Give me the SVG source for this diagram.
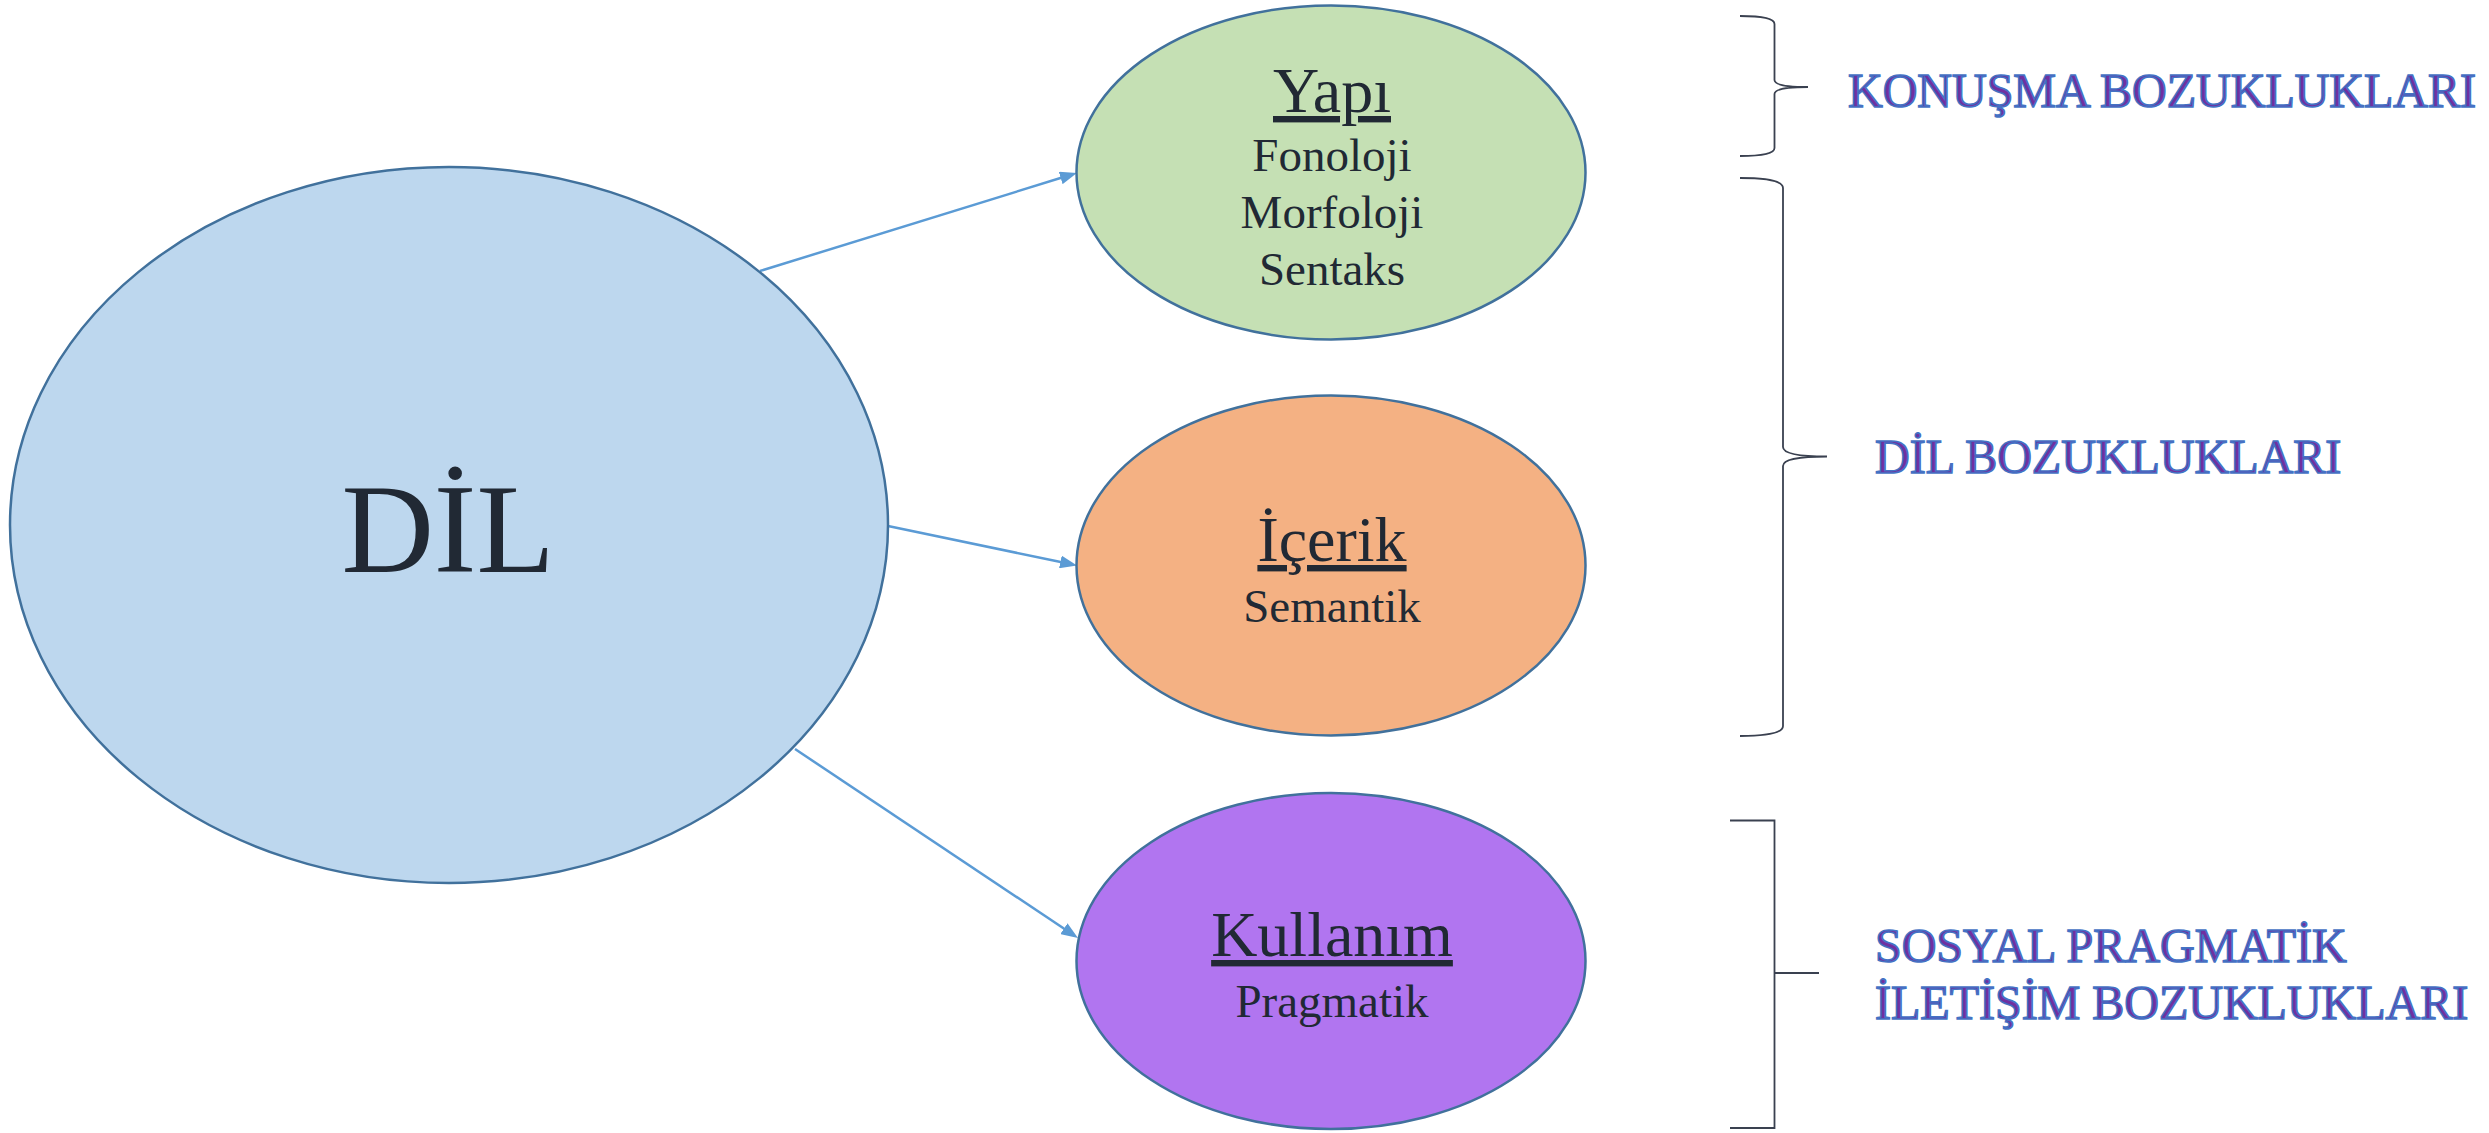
<svg xmlns="http://www.w3.org/2000/svg" width="2489" height="1133" viewBox="0 0 2489 1133">
<style>
  .node { stroke: #41719C; stroke-width: 2.5; }
  .title { font-family: "Liberation Serif", "Times New Roman", serif; font-size: 64px; fill: #212934; text-anchor: middle; text-decoration: underline; }
  .sub { font-family: "Liberation Serif", "Times New Roman", serif; font-size: 47px; fill: #212934; text-anchor: middle; }
  .big { font-family: "Liberation Serif", "Times New Roman", serif; font-size: 128px; fill: #212934; text-anchor: middle; }
  .edge { stroke: #5B9BD5; stroke-width: 2.5; fill: none; }
  .brace { stroke: #3A4150; stroke-width: 1.8; fill: none; }
  .label { font-family: "Liberation Serif", "Times New Roman", serif; font-size: 48px; fill: #7030A0; stroke: #4472C4; stroke-width: 1.6; }
</style>
<defs>
  <marker id="arrow" markerUnits="userSpaceOnUse" markerWidth="17" markerHeight="13" refX="4" refY="6.5" orient="auto">
    <path d="M0,0 L17,6.5 L0,13 z" fill="#5B9BD5"/>
  </marker>
</defs>
<rect width="2489" height="1133" fill="#ffffff"/>

<g id="connectors">
  <line class="edge" x1="760" y1="271" x2="1064.5" y2="176.8" marker-end="url(#arrow)"/>
  <line class="edge" x1="888" y1="526" x2="1064.3" y2="562.8" marker-end="url(#arrow)"/>
  <line class="edge" x1="795" y1="749" x2="1067.2" y2="930.8" marker-end="url(#arrow)"/>
</g>

<g id="node-dil">
  <ellipse class="node" cx="449" cy="525" rx="439" ry="358" fill="#BDD7EE"/>
  <text class="big" x="448" y="572">DİL</text>
</g>

<g id="node-yapi">
  <ellipse class="node" cx="1331" cy="172.5" rx="254.5" ry="167" fill="#C5E0B4"/>
  <text class="title" x="1332" y="112">Yapı</text>
  <text class="sub" x="1332" y="171">Fonoloji</text>
  <text class="sub" x="1332" y="228">Morfoloji</text>
  <text class="sub" x="1332" y="285">Sentaks</text>
</g>

<g id="node-icerik">
  <ellipse class="node" cx="1331" cy="565.5" rx="254.5" ry="170" fill="#F4B183"/>
  <text class="title" x="1332" y="561">İçerik</text>
  <text class="sub" x="1332" y="622">Semantik</text>
</g>

<g id="node-kullanim">
  <ellipse class="node" cx="1331" cy="961" rx="254.5" ry="168" fill="#B175F0"/>
  <text class="title" x="1332" y="956">Kullanım</text>
  <text class="sub" x="1332" y="1017">Pragmatik</text>
</g>

<g id="brace-konusma">
  <path class="brace" d="M1740,16 Q1774.5,16 1774.5,24 L1774.5,80 Q1774.5,87 1808,87 Q1774.5,87 1774.5,94 L1774.5,148 Q1774.5,156 1740,156"/>
  <text class="label" x="1848" y="107">KONUŞMA BOZUKLUKLARI</text>
</g>

<g id="brace-dil">
  <path class="brace" d="M1740,178 Q1783,178 1783,188 L1783,447 Q1783,456.5 1827,456.5 Q1783,456.5 1783,466 L1783,726 Q1783,736 1740,736"/>
  <text class="label" x="1875" y="473">DİL BOZUKLUKLARI</text>
</g>

<g id="bracket-sosyal">
  <path class="brace" stroke-width="2.2" d="M1730,820.5 L1774.5,820.5 L1774.5,1128 L1730,1128"/>
  <line class="brace" stroke-width="2.5" x1="1774.5" y1="973" x2="1819" y2="973"/>
  <text class="label" x="1875" y="962">SOSYAL PRAGMATİK</text>
  <text class="label" x="1875" y="1019">İLETİŞİM BOZUKLUKLARI</text>
</g>
</svg>
